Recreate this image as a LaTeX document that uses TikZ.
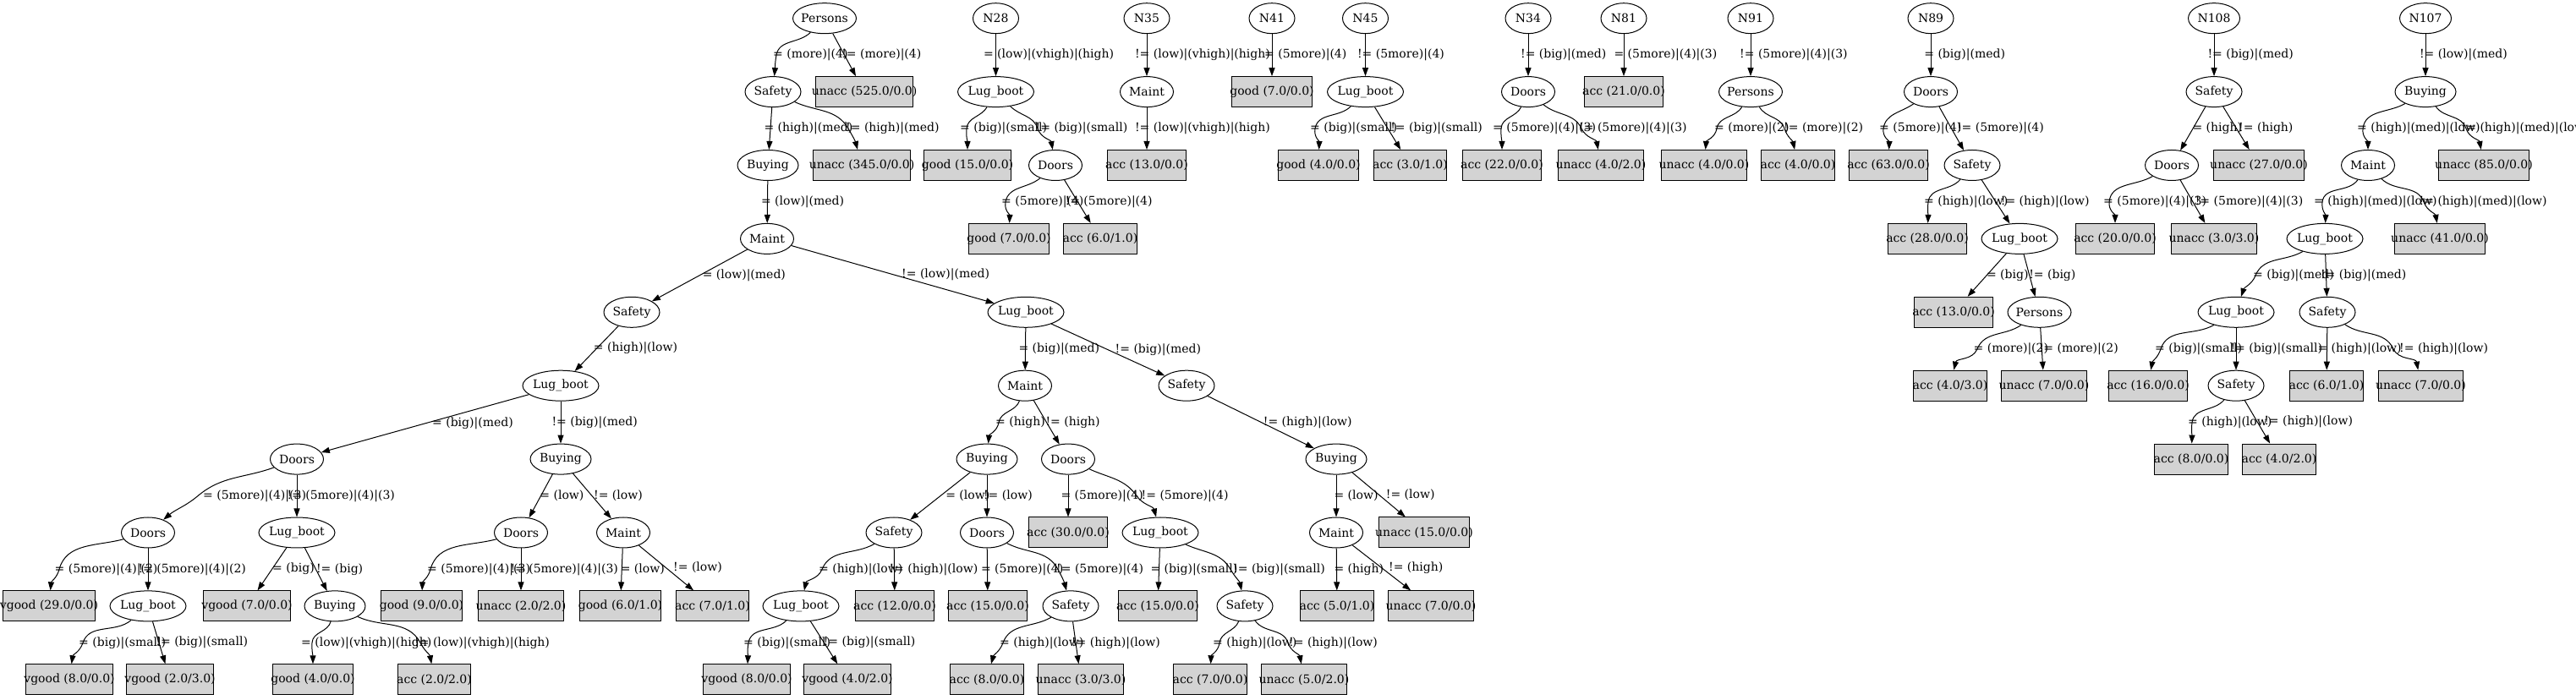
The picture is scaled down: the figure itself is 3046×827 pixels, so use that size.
\documentclass[tikz,border=0pt]{standalone}
\usepackage{fontspec}
\setmainfont{DejaVu Serif}
\newfontfamily\libser{Liberation Serif}
\usetikzlibrary{shapes.geometric,arrows.meta}
\definecolor{leafgray}{HTML}{D3D3D3}
\newcommand\mkin[4]{\node[inode, minimum width=#4bp] (#1) at (#2) {\makebox[0pt]{#3}};}
\newcommand\mkleaf[3]{\node[leafbox] (#1) at (#2) {\phantom{#3}}; \node[leaftext] (#1t) at (#1.center) {\makebox[0pt]{#3}};}
\newcommand\sedge[4]{\draw[conn] (#1) -- node[elabel, pos=0.5, xshift=#4bp] (lab#1#2) {#3} (#2);}
\newcommand\cedge[9]{\coordinate (via#1#2) at (#4); \draw[conn] (#1) to[out=#3,in=#5] (via#1#2) to[out=#6,in=#7] (#2); \node[elabel, xshift=#9bp] (lab#1#2) at (via#1#2) {#8};}
\begin{document}
\begin{tikzpicture}[x=1bp,y=1bp,
  every node/.style={font=\fontsize{14bp}{16bp}\selectfont},
  inode/.style={ellipse, draw=black, line width=1bp, inner sep=0pt, minimum height=36bp},
  leafbox/.style={rectangle, draw=black, fill=leafgray, line width=1bp, inner xsep=8bp, inner ysep=0pt, minimum height=36bp, font=\libser\fontsize{14bp}{16bp}\selectfont},
  leaftext/.style={inner sep=0pt},
  conn/.style={draw=black, line width=1bp, -{Triangle[length=10bp,width=7bp]}},
  elabel/.style={anchor=west, inner sep=0pt}]
\fill[white] (0,0) rectangle (3046,827);
\useasboundingbox (0,0) rectangle (3046,827);
% ---------- inner nodes ----------
\mkin{p0}{975,805.3}{Persons}{75}
\mkin{s1}{914,718.4}{Safety}{66}
\mkin{b2}{908,631.5}{Buying}{72}
\mkin{m3}{907,544.6}{Maint}{63}
\mkin{s4}{747,457.7}{Safety}{66}
\mkin{l4}{1213,457.7}{Lug\_boot}{90}
\mkin{l5}{663,370.8}{Lug\_boot}{90}
\mkin{m5}{1212,370.8}{Maint}{63}
\mkin{s5}{1403,370.8}{Safety}{66}
\mkin{d6}{351,283.9}{Doors}{63}
\mkin{b6}{663,283.9}{Buying}{72}
\mkin{b6b}{1167,283.9}{Buying}{72}
\mkin{d6b}{1263,283.9}{Doors}{63}
\mkin{b6c}{1580,283.9}{Buying}{72}
\mkin{d7a}{175,197.0}{Doors}{63}
\mkin{l7a}{351,197.0}{Lug\_boot}{90}
\mkin{d7b}{616,197.0}{Doors}{63}
\mkin{m7b}{737,197.0}{Maint}{63}
\mkin{s7c}{1057,197.0}{Safety}{66}
\mkin{d7c}{1167,197.0}{Doors}{63}
\mkin{l7d}{1372,197.0}{Lug\_boot}{90}
\mkin{m7e}{1580,197.0}{Maint}{63}
\mkin{l8a}{175,110.1}{Lug\_boot}{90}
\mkin{b8a}{396,110.1}{Buying}{72}
\mkin{l8c}{947,110.1}{Lug\_boot}{90}
\mkin{s8d}{1266,110.1}{Safety}{66}
\mkin{s8e}{1472,110.1}{Safety}{66}
\mkin{n28}{1177.5,805.3}{N28}{54}
\mkin{l28}{1177.5,718.4}{Lug\_boot}{90}
\mkin{d28}{1248,631.5}{Doors}{63}
\mkin{n35}{1356,805.3}{N35}{54}
\mkin{m35}{1356,718.4}{Maint}{63}
\mkin{n41}{1504,805.3}{N41}{54}
\mkin{n45}{1614.5,805.3}{N45}{54}
\mkin{l45}{1614.5,718.4}{Lug\_boot}{90}
\mkin{n34}{1807,805.3}{N34}{54}
\mkin{d34}{1807,718.4}{Doors}{63}
\mkin{n81}{1920,805.3}{N81}{54}
\mkin{n91}{2070,805.3}{N91}{54}
\mkin{p91}{2070,718.4}{Persons}{75}
\mkin{n89}{2283,805.3}{N89}{54}
\mkin{d89}{2283,718.4}{Doors}{63}
\mkin{s89}{2332,631.5}{Safety}{66}
\mkin{l89}{2388,544.6}{Lug\_boot}{90}
\mkin{p89}{2411.5,457.7}{Persons}{75}
\mkin{n108}{2618,805.3}{N108}{61}
\mkin{s108}{2618,718.4}{Safety}{66}
\mkin{d108}{2568,631.5}{Doors}{63}
\mkin{n107}{2868,805.3}{N107}{61}
\mkin{b107}{2868,718.4}{Buying}{72}
\mkin{m107}{2800,631.5}{Maint}{63}
\mkin{l107}{2749,544.6}{Lug\_boot}{90}
\mkin{l107b}{2644,457.7}{Lug\_boot}{90}
\mkin{s107}{2752,457.7}{Safety}{66}
\mkin{s107b}{2644,370.8}{Safety}{66}
% ---------- leaves ----------
\mkleaf{u525}{1022,718.4}{unacc (525.0/0.0)}
\mkleaf{u345}{1019,631.5}{unacc (345.0/0.0)}
\mkleaf{v29}{58,110.1}{vgood (29.0/0.0)}
\mkleaf{v7}{292,110.1}{vgood (7.0/0.0)}
\mkleaf{g9}{498.5,110.1}{good (9.0/0.0)}
\mkleaf{u22}{616,110.1}{unacc (2.0/2.0)}
\mkleaf{g61}{733.5,110.1}{good (6.0/1.0)}
\mkleaf{a71}{842.5,110.1}{acc (7.0/1.0)}
\mkleaf{v8a}{82,23.2}{vgood (8.0/0.0)}
\mkleaf{v23}{201,23.2}{vgood (2.0/3.0)}
\mkleaf{g40a}{370,23.2}{good (4.0/0.0)}
\mkleaf{a22}{513.5,23.2}{acc (2.0/2.0)}
\mkleaf{a30}{1263,197.0}{acc (30.0/0.0)}
\mkleaf{u15}{1684,197.0}{unacc (15.0/0.0)}
\mkleaf{a12}{1058,110.1}{acc (12.0/0.0)}
\mkleaf{a15a}{1168,110.1}{acc (15.0/0.0)}
\mkleaf{a15b}{1369,110.1}{acc (15.0/0.0)}
\mkleaf{a51}{1581,110.1}{acc (5.0/1.0)}
\mkleaf{u70a}{1692,110.1}{unacc (7.0/0.0)}
\mkleaf{v8b}{883,23.2}{vgood (8.0/0.0)}
\mkleaf{v42}{1002,23.2}{vgood (4.0/2.0)}
\mkleaf{a80a}{1167,23.2}{acc (8.0/0.0)}
\mkleaf{u33a}{1278,23.2}{unacc (3.0/3.0)}
\mkleaf{a70}{1431,23.2}{acc (7.0/0.0)}
\mkleaf{u52}{1542,23.2}{unacc (5.0/2.0)}
\mkleaf{g15}{1144,631.5}{good (15.0/0.0)}
\mkleaf{g70a}{1193,544.6}{good (7.0/0.0)}
\mkleaf{a61a}{1301,544.6}{acc (6.0/1.0)}
\mkleaf{a13a}{1356,631.5}{acc (13.0/0.0)}
\mkleaf{g70b}{1504,718.4}{good (7.0/0.0)}
\mkleaf{g40b}{1559,631.5}{good (4.0/0.0)}
\mkleaf{a31}{1667.5,631.5}{acc (3.0/1.0)}
\mkleaf{a22b}{1776,631.5}{acc (22.0/0.0)}
\mkleaf{u42}{1893,631.5}{unacc (4.0/2.0)}
\mkleaf{a21}{1920,718.4}{acc (21.0/0.0)}
\mkleaf{u40}{2015,631.5}{unacc (4.0/0.0)}
\mkleaf{a40}{2126,631.5}{acc (4.0/0.0)}
\mkleaf{a63}{2233,631.5}{acc (63.0/0.0)}
\mkleaf{a28}{2279,544.6}{acc (28.0/0.0)}
\mkleaf{a13b}{2310,457.7}{acc (13.0/0.0)}
\mkleaf{a43}{2306,370.8}{acc (4.0/3.0)}
\mkleaf{u70b}{2417,370.8}{unacc (7.0/0.0)}
\mkleaf{u27}{2671,631.5}{unacc (27.0/0.0)}
\mkleaf{a20}{2501,544.6}{acc (20.0/0.0)}
\mkleaf{u33b}{2618,544.6}{unacc (3.0/3.0)}
\mkleaf{u85}{2937,631.5}{unacc (85.0/0.0)}
\mkleaf{u41}{2885,544.6}{unacc (41.0/0.0)}
\mkleaf{a16}{2540,370.8}{acc (16.0/0.0)}
\mkleaf{a61b}{2751,370.8}{acc (6.0/1.0)}
\mkleaf{u70c}{2862.5,370.8}{unacc (7.0/0.0)}
\mkleaf{a80b}{2591,283.9}{acc (8.0/0.0)}
\mkleaf{a42}{2695,283.9}{acc (4.0/2.0)}
% ---------- straight edges ----------
\sedge{p0}{u525}{!= (more)|(4)}{-3.5}
\sedge{s1}{b2}{= (high)|(med)}{-8}
\sedge{b2}{m3}{= (low)|(med)}{-8}
\sedge{m3}{s4}{= (low)|(med)}{3}
\sedge{m3}{l4}{!= (low)|(med)}{10}
\sedge{s4}{l5}{= (high)|(low)}{-4}
\sedge{l5}{d6}{= (big)|(med)}{8}
\sedge{l5}{b6}{!= (big)|(med)}{-11}
\sedge{d6}{l7a}{!= (5more)|(4)|(3)}{-12}
\sedge{d7a}{l8a}{!= (5more)|(4)|(2)}{-12}
\sedge{l7a}{v7}{= (big)}{0}
\sedge{l7a}{b8a}{!= (big)}{0}
\sedge{b6}{d7b}{= (low)}{-1.5}
\sedge{b6}{m7b}{!= (low)}{1.5}
\sedge{d7b}{u22}{!= (5more)|(4)|(3)}{-13}
\sedge{m7b}{g61}{= (low)}{-2}
\sedge{m7b}{a71}{!= (low)}{8}
\sedge{l8a}{v23}{!= (big)|(small)}{-4}
\sedge{l4}{m5}{= (big)|(med)}{-8.5}
\sedge{l4}{s5}{!= (big)|(med)}{8}
\sedge{m5}{d6b}{!= (high)}{-1.5}
\sedge{s5}{b6c}{!= (high)|(low)}{2.5}
\sedge{b6b}{s7c}{= (low)}{6}
\sedge{b6b}{d7c}{!= (low)}{-4.4}
\sedge{d6b}{a30}{= (5more)|(4)}{-9}
\sedge{b6c}{m7e}{= (low)}{-3}
\sedge{b6c}{u15}{!= (low)}{8}
\sedge{s7c}{a12}{!= (high)|(low)}{-6.5}
\sedge{d7c}{a15a}{= (5more)|(4)}{-8}
\sedge{l7d}{a15b}{= (big)|(small)}{-10.5}
\sedge{m7e}{a51}{= (high)}{-3.5}
\sedge{m7e}{u70a}{!= (high)}{8}
\sedge{l8c}{v42}{!= (big)|(small)}{-1}
\sedge{s8d}{u33a}{!= (high)|(low)}{-5.4}
\sedge{n28}{l28}{= (low)|(vhigh)|(high)}{-15}
\sedge{d28}{a61a}{!= (5more)|(4)}{-15}
\sedge{n35}{m35}{!= (low)|(vhigh)|(high)}{-14.4}
\sedge{m35}{a13a}{!= (low)|(vhigh)|(high)}{-14.4}
\sedge{n41}{g70b}{= (5more)|(4)}{-9.4}
\sedge{n45}{l45}{!= (5more)|(4)}{-10}
\sedge{l45}{a31}{!= (big)|(small)}{3}
\sedge{n34}{d34}{!= (big)|(med)}{-9.4}
\sedge{n81}{a21}{= (5more)|(4)|(3)}{-12}
\sedge{n91}{p91}{!= (5more)|(4)|(3)}{-13.3}
\sedge{n89}{d89}{= (big)|(med)}{-8.2}
\sedge{d89}{s89}{!= (5more)|(4)}{6}
\sedge{s89}{l89}{!= (high)|(low)}{5.5}
\sedge{l89}{a13b}{= (big)}{-1}
\sedge{l89}{p89}{!= (big)}{-1}
\sedge{p89}{u70b}{!= (more)|(2)}{-4}
\sedge{n108}{s108}{!= (big)|(med)}{-8}
\sedge{s108}{d108}{= (high)}{-1}
\sedge{s108}{u27}{!= (high)}{2.5}
\sedge{d108}{u33b}{!= (5more)|(4)|(3)}{2.6}
\sedge{n107}{b107}{!= (low)|(med)}{-7.5}
\sedge{l107}{s107}{!= (big)|(med)}{-7}
\sedge{l107b}{s107b}{!= (big)|(small)}{-7}
\sedge{s107}{a61b}{= (high)|(low)}{-11.5}
\sedge{s107b}{a42}{!= (high)|(low)}{7.5}
% ---------- curved edges ----------
\cedge{p0}{s1}{-135}{918,761.85}{80}{-100}{85}{= (more)|(4)}{-4}
\cedge{s1}{u345}{-25}{1003,674.95}{120}{-60}{105}{!= (high)|(med)}{-3}
\cedge{d6}{d7a}{-160}{234,240.45}{40}{-140}{40}{= (5more)|(4)|(3)}{6}
\cedge{d7a}{v29}{-165}{70,153.55}{75}{-105}{85}{= (5more)|(4)|(2)}{-5.5}
\cedge{d7b}{g9}{-165}{509,153.55}{75}{-105}{88}{= (5more)|(4)|(3)}{-4}
\cedge{l8a}{v8a}{-140}{98,66.65}{72}{-108}{82}{= (big)|(small)}{-5}
\cedge{b8a}{g40a}{-105}{369,66.65}{87}{-93}{90}{= (low)|(vhigh)|(high)}{-13}
\cedge{b8a}{a22}{-25}{497,66.65}{118}{-62}{100}{!= (low)|(vhigh)|(high)}{-7}
\cedge{m5}{b6b}{-110}{1181,327.35}{80}{-100}{85}{= (high)}{-4}
\cedge{d6b}{l7d}{-25}{1344,240.45}{125}{-55}{105}{!= (5more)|(4)}{5.5}
\cedge{s7c}{l8c}{-150}{972,153.55}{68}{-112}{78}{= (high)|(low)}{-4}
\cedge{d7c}{s8d}{-28}{1251,153.55}{118}{-62}{105}{!= (5more)|(4)}{-2}
\cedge{l7d}{s8e}{-25}{1455,153.55}{120}{-60}{102}{!= (big)|(small)}{3}
\cedge{l8c}{v8b}{-135}{885,66.65}{80}{-100}{87}{= (big)|(small)}{-6}
\cedge{s8d}{a80a}{-150}{1186,66.65}{70}{-110}{75}{= (high)|(low)}{-4}
\cedge{s8e}{a70}{-112}{1442,66.65}{82}{-98}{88}{= (high)|(low)}{-8}
\cedge{s8e}{u52}{-55}{1523,66.65}{108}{-72}{100}{!= (high)|(low)}{1}
\cedge{l28}{g15}{-120}{1143,674.95}{85}{-95}{90}{= (big)|(small)}{-8}
\cedge{l28}{d28}{-45}{1227,674.95}{108}{-72}{100}{!= (big)|(small)}{-2.5}
\cedge{d28}{g70a}{-140}{1189,588.05}{80}{-100}{88}{= (5more)|(4)}{-5}
\cedge{l45}{g40b}{-135}{1555,674.95}{80}{-100}{88}{= (big)|(small)}{-6}
\cedge{d34}{a22b}{-115}{1775,674.95}{87}{-93}{90}{= (5more)|(4)|(3)}{-10}
\cedge{d34}{u42}{-40}{1870,674.95}{115}{-65}{100}{!= (5more)|(4)|(3)}{-3}
\cedge{p91}{u40}{-120}{2030,674.95}{80}{-100}{85}{= (more)|(2)}{-3}
\cedge{p91}{a40}{-60}{2110,674.95}{108}{-72}{102}{!= (more)|(2)}{-1}
\cedge{d89}{a63}{-145}{2227,674.95}{82}{-98}{88}{= (5more)|(4)}{-5}
\cedge{s89}{a28}{-130}{2280,588.05}{83}{-97}{88}{= (high)|(low)}{-5}
\cedge{p89}{a43}{-145}{2338,414.25}{68}{-112}{77}{= (more)|(2)}{-4.5}
\cedge{d108}{a20}{-150}{2494,588.05}{85}{-95}{90}{= (5more)|(4)|(3)}{-7}
\cedge{b107}{m107}{-150}{2794,674.95}{83}{-97}{90}{= (high)|(med)|(low)}{-7}
\cedge{b107}{u85}{-55}{2916,674.95}{108}{-72}{100}{!= (high)|(med)|(low)}{-5.5}
\cedge{m107}{l107}{-125}{2746,588.05}{83}{-97}{88}{= (high)|(med)|(low)}{-10}
\cedge{m107}{u41}{-45}{2866,588.05}{110}{-70}{100}{!= (high)|(med)|(low)}{-5.5}
\cedge{l107}{l107b}{-150}{2667,501.15}{68}{-112}{72}{= (big)|(med)}{-3}
\cedge{l107b}{a16}{-150}{2555,414.25}{72}{-108}{80}{= (big)|(small)}{-7}
\cedge{s107}{u70c}{-35}{2830,414.25}{115}{-65}{100}{!= (high)|(low)}{7}
\cedge{s107b}{a80b}{-130}{2592,327.35}{83}{-97}{88}{= (high)|(low)}{-5}
\end{tikzpicture}
\end{document}
